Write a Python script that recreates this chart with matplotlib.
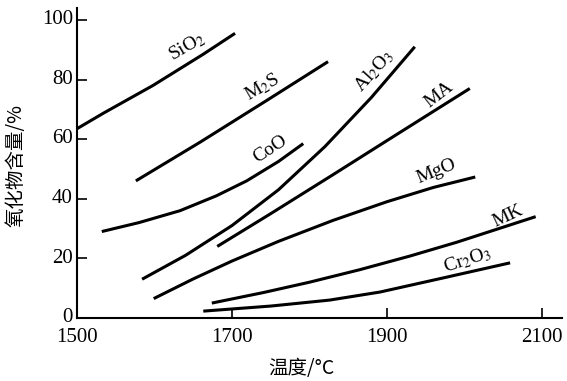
import matplotlib
matplotlib.use('Agg')
import matplotlib.pyplot as plt
import matplotlib.transforms as mtransforms

plt.rcParams['font.family'] = ['Liberation Serif', 'Noto Sans CJK SC', 'DejaVu Sans']
plt.rcParams['mathtext.fontset'] = 'stix'

# curves: temperature (deg C), oxide content (%)
sio2_t = [1500, 1534, 1598, 1663, 1704]
sio2_c = [63.5, 68.7, 78, 88.5, 95.5]

m2s_t = [1576, 1659, 1745, 1824]
m2s_c = [46, 59, 73, 86]

coo_t = [1532, 1580, 1633, 1680, 1719, 1760, 1792]
coo_c = [29, 32, 36, 41, 46, 52.5, 58.5]

al2o3_t = [1584, 1640, 1700, 1760, 1820, 1880, 1936]
al2o3_c = [13, 21, 31, 43, 57.5, 74, 91]

ma_t = [1681, 1750, 1830, 1900, 1955, 2007]
ma_c = [24, 35, 48, 59.5, 68.5, 77]

mgo_t = [1599, 1650, 1700, 1760, 1830, 1900, 1960, 2014]
mgo_c = [6.5, 13.1, 19.1, 25.7, 32.7, 39, 43.8, 47.3]

mk_t = [1674, 1740, 1800, 1865, 1930, 1990, 2092]
mk_c = [5, 8.5, 12, 16.2, 20.8, 25.4, 34]

cr2o3_t = [1663, 1750, 1826, 1891, 1972, 2059]
cr2o3_c = [2.3, 4, 6, 8.7, 13.4, 18.5]

curves = [(sio2_t, sio2_c), (m2s_t, m2s_c), (coo_t, coo_c), (al2o3_t, al2o3_c),
          (ma_t, ma_c), (mgo_t, mgo_c), (mk_t, mk_c), (cr2o3_t, cr2o3_c)]

# label text, position, rotation
labels = [('SiO$_2$', 1642, 91, 30),
          ('M$_2$S', 1739, 77.5, 30),
          ('CoO', 1750, 56.7, 33),
          ('Al$_2$O$_3$', 1884, 83, 48),
          ('MA', 1967, 75, 38),
          ('MgO', 1964, 49.3, 22),
          ('MK', 2056, 34.2, 25),
          ('Cr$_2$O$_3$', 2004, 19.5, 18)]

fig = plt.figure(figsize=(5.67, 3.81), dpi=100)
ax = fig.add_axes([0.1358, 0.1654, 0.8554, 0.8136])

for t, c in curves:
    ax.plot(t, c, color='black', lw=2.2, solid_capstyle='butt')

for txt, x, y, rot in labels:
    ax.text(x, y, txt, rotation=rot, rotation_mode='anchor',
            ha='center', va='center', fontsize=14)

ax.set_xlim(1500, 2126)
ax.set_ylim(0, 104)
ax.set_xticks([1500, 1700, 1900, 2100])
ax.set_yticks([0, 20, 40, 60, 80, 100])
ax.spines['top'].set_visible(False)
ax.spines['right'].set_visible(False)
ax.spines['left'].set_linewidth(1.5)
ax.spines['bottom'].set_linewidth(1.5)
ax.tick_params(direction='in', length=7, width=1.2, labelsize=15)
ax.tick_params(axis='x', pad=7)
ax.tick_params(axis='y', pad=3)

# y tick labels sit a little above their ticks in the original
shift = mtransforms.ScaledTranslation(0, 2 / 72, fig.dpi_scale_trans)
for lab in ax.get_yticklabels():
    lab.set_transform(lab.get_transform() + shift)

fig.text(0.029, 0.566, '氧化物含量/%', rotation=90, ha='center', va='center',
         fontsize=14, family=['Noto Sans CJK SC', 'DejaVu Sans'])
fig.text(0.531, 0.034, '温度/°C', ha='center', va='center',
         fontsize=14, family=['Noto Sans CJK SC', 'DejaVu Sans'])

fig.savefig('out.png', dpi=100)
